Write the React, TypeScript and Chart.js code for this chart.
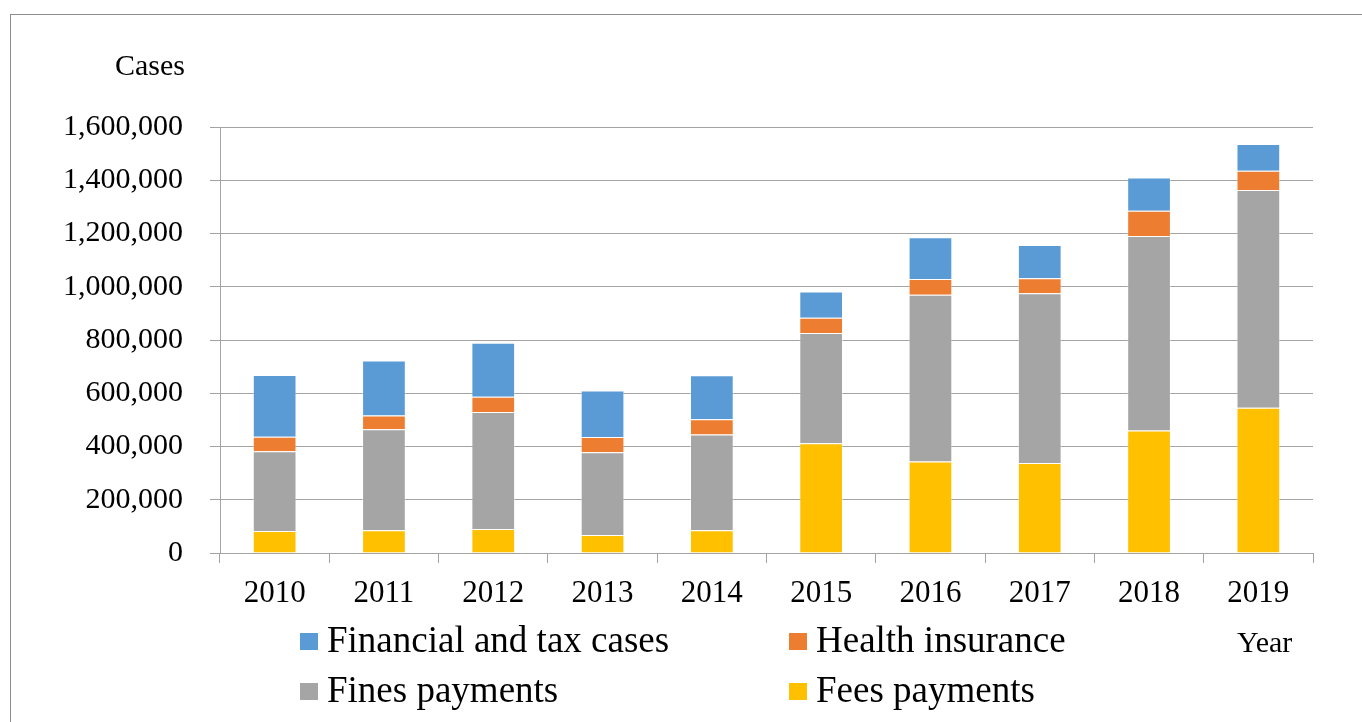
import React, { useEffect, useRef } from "react";
import { Chart, registerables } from "chart.js";

Chart.register(...registerables);

const years = ["2010", "2011", "2012", "2013", "2014", "2015", "2016", "2017", "2018", "2019"];
const feesPayments = [83000, 85000, 90000, 68000, 85000, 412000, 344000, 338000, 460000, 546000];
const finesPayments = [299000, 380000, 440000, 310000, 360000, 414000, 626000, 638000, 731000, 817000];
const healthInsurance = [55000, 51000, 57000, 58000, 57000, 58000, 59000, 56000, 94000, 73000];
const financialTax = [232000, 207000, 203000, 174000, 166000, 98000, 157000, 125000, 125000, 100000];

const yTicks = [0, 200000, 400000, 600000, 800000, 1000000, 1200000, 1400000, 1600000];

const SERIF = "'Liberation Serif', 'Times New Roman', serif";
const GRID = "#a3a3a3";

const labelsPlugin = {
  id: "customLabels",
  afterDraw(chart: any) {
    const ctx = chart.ctx;
    ctx.save();
    ctx.fillStyle = "#000";
    ctx.textBaseline = "alphabetic";
    // axis titles
    ctx.font = `30px ${SERIF}`;
    ctx.textAlign = "right";
    ctx.fillText("Cases", 185, 75);
    ctx.font = `30px ${SERIF}`;
    ctx.textAlign = "left";
    ctx.fillText("Year", 1237, 652);
    // legend in two columns
    const order = [3, 2, 1, 0];
    const colX = [300, 789];
    const rowBase = [652, 702];
    ctx.font = `37px ${SERIF}`;
    order.forEach((dsIndex, i) => {
      const ds = chart.data.datasets[dsIndex];
      const col = i % 2;
      const row = Math.floor(i / 2);
      const x = colX[col];
      const base = rowBase[row];
      ctx.fillStyle = ds.backgroundColor;
      ctx.fillRect(x, base - 19, 18, 17);
      ctx.fillStyle = "#000";
      ctx.textAlign = "left";
      ctx.fillText(ds.label, x + 27, base);
    });
    ctx.restore();
  },
};

export default function App() {
  const canvasRef = useRef<HTMLCanvasElement | null>(null);

  useEffect(() => {
    if (!canvasRef.current) return;
    const chart = new Chart(canvasRef.current, {
      type: "bar",
      data: {
        labels: years,
        datasets: [
          { label: "Fees payments", data: feesPayments, backgroundColor: "#FFC000" },
          { label: "Fines payments", data: finesPayments, backgroundColor: "#A5A5A5" },
          { label: "Health insurance", data: healthInsurance, backgroundColor: "#ED7D31" },
          { label: "Financial and tax cases", data: financialTax, backgroundColor: "#5B9BD5" },
        ].map((d) => ({
          ...d,
          borderColor: "rgba(255,255,255,0.4)",
          borderWidth: 1,
          barPercentage: 0.4,
          categoryPercentage: 1,
        })),
      },
      options: {
        responsive: false,
        animation: false,
        devicePixelRatio: 1,
        layout: { padding: { left: 0, right: 49, top: 127, bottom: 0 } },
        plugins: {
          legend: { display: false },
          tooltip: { enabled: false },
          title: { display: false },
        },
        scales: {
          x: {
            stacked: true,
            grid: {
              display: true,
              drawOnChartArea: false,
              drawTicks: true,
              tickLength: 10,
              color: GRID,
              offset: true,
            },
            border: { display: true, color: GRID, width: 1 },
            ticks: {
              color: "#000",
              font: { family: SERIF, size: 31 },
              padding: 12,
              maxRotation: 0,
              autoSkip: false,
            },
            afterFit: (scale: any) => {
              scale.height = 169;
            },
          },
          y: {
            stacked: true,
            min: 0,
            max: 1600000,
            afterBuildTicks: (scale: any) => {
              scale.ticks = yTicks.map((v) => ({ value: v }));
            },
            grid: {
              color: GRID,
              lineWidth: 1,
              drawTicks: true,
              tickLength: 10,
            },
            border: { display: true, color: GRID, width: 1 },
            ticks: {
              color: "#000",
              font: { family: SERIF, size: 30 },
              padding: 27,
              callback: (v: any) => Number(v).toLocaleString("en-US"),
            },
            afterFit: (scale: any) => {
              scale.width = 220;
            },
          },
        },
      },
      plugins: [labelsPlugin],
    });
    return () => chart.destroy();
  }, []);

  return (
    <div
      style={{
        position: "fixed",
        left: 0,
        top: 0,
        width: 1362,
        height: 722,
        overflow: "hidden",
        background: "#fff",
      }}
    >
      <div
        style={{
          position: "absolute",
          left: 10,
          top: 14,
          width: 1420,
          height: 800,
          border: "1px solid #8c8c8c",
          boxSizing: "border-box",
        }}
      />
      <canvas
        ref={canvasRef}
        width={1362}
        height={722}
        style={{ position: "absolute", left: 0, top: 0, width: 1362, height: 722 }}
      />
    </div>
  );
}
